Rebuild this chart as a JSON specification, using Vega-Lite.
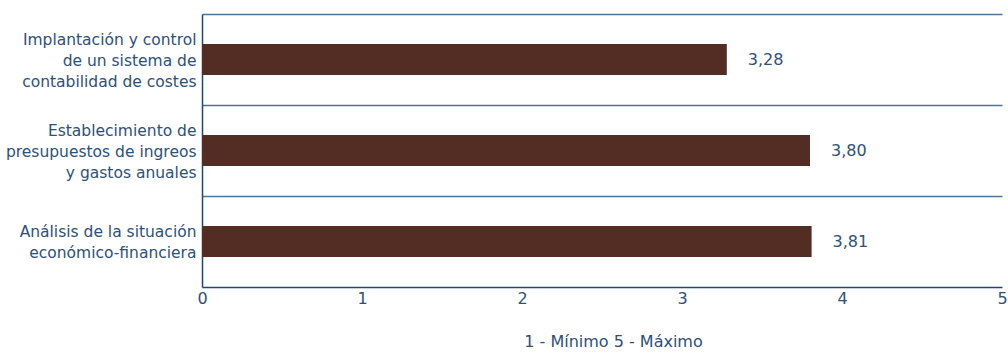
{
  "$schema": "https://vega.github.io/schema/vega-lite/v6.json",
  "width": 800,
  "height": 273,
  "autosize": {"type": "none"},
  "padding": {"left": 202, "top": 14, "right": 6, "bottom": 67},
  "background": "white",
  "config": {
    "font": "DejaVu Sans",
    "view": {"stroke": null},
    "locale": {
      "number": {"decimal": ",", "thousands": ".", "grouping": [3], "currency": ["", " €"]}
    }
  },
  "data": {
    "values": [
      {"area": "Implantación y control|de un sistema de|contabilidad de costes", "valor": 3.28},
      {"area": "Establecimiento de|presupuestos de ingreos|y gastos anuales", "valor": 3.80},
      {"area": "Análisis de la situación|económico-financiera", "valor": 3.81}
    ]
  },
  "encoding": {
    "y": {
      "field": "area",
      "type": "nominal",
      "sort": null,
      "scale": {"paddingInner": 0, "paddingOuter": 0},
      "axis": {
        "title": null,
        "bandPosition": 0,
        "grid": true,
        "gridColor": "#4f7297",
        "gridWidth": 1.5,
        "ticks": false,
        "domain": true,
        "domainColor": "#1f4a70",
        "domainWidth": 1.5,
        "labelExpr": "split(datum.label, '|')",
        "labelFont": "DejaVu Sans",
        "labelFontSize": 15.5,
        "labelColor": "#2e5177",
        "labelLineHeight": 21,
        "labelPadding": 6,
        "labelLimit": 300,
        "labelOffset": {
          "condition": {"test": "indexof(datum.value, 'Análisis') == 0", "value": -10},
          "value": -20
        }
      }
    },
    "x": {
      "field": "valor",
      "type": "quantitative",
      "scale": {"domain": [0, 5], "nice": false},
      "axis": {
        "title": "1 - Mínimo 5 - Máximo",
        "titleFont": "DejaVu Sans",
        "titleFontSize": 16,
        "titleFontWeight": "normal",
        "titleColor": "#2e5177",
        "titlePadding": 27,
        "titleX": 411,
        "values": [0, 1, 2, 3, 4, 5],
        "format": "d",
        "grid": false,
        "ticks": false,
        "domainColor": "#1f4a70",
        "domainWidth": 1.5,
        "labelFont": "DejaVu Sans",
        "labelFontSize": 16,
        "labelColor": "#2e5177",
        "labelPadding": 3,
        "labelFlush": false
      }
    }
  },
  "layer": [
    {
      "mark": {"type": "bar", "color": "#532d24", "height": {"band": 0.34}}
    },
    {
      "mark": {"type": "text", "align": "left", "baseline": "middle", "dx": 21, "fontSize": 16, "color": "#2e5177", "font": "DejaVu Sans"},
      "encoding": {
        "text": {"field": "valor", "type": "quantitative", "format": ".2f"}
      }
    }
  ]
}
